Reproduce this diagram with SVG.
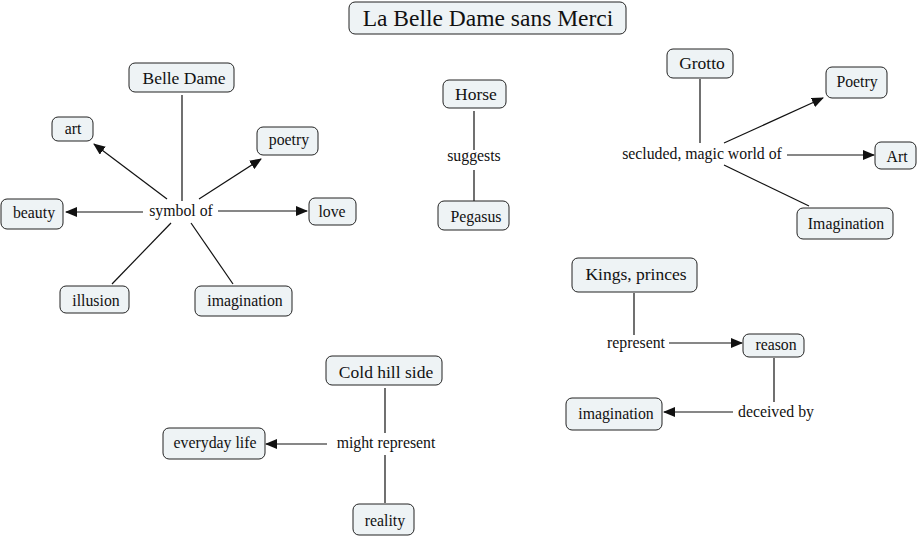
<svg xmlns="http://www.w3.org/2000/svg" width="919" height="538" viewBox="0 0 919 538">
<style>
.n rect{fill:#eef3f5;stroke:#222;stroke-width:1}
text{font-family:"Liberation Serif","Times New Roman",serif;fill:#111;text-anchor:middle}
.big{font-size:17.5px}
.sm{font-size:15.8px}
.lbl{font-size:15.8px}
.c line{stroke:#111;stroke-width:1.2;fill:none}
</style>
<defs>
<marker id="a" markerWidth="12" markerHeight="10" refX="11" refY="5" orient="auto" markerUnits="userSpaceOnUse">
<path d="M0,0 L12,5 L0,10 Z" fill="#111"/>
</marker>
</defs>
<rect width="919" height="538" fill="#fff"/>
<g class="c" id="connectors">
<line x1="182" y1="95" x2="182" y2="201"/>
<line x1="167" y1="199" x2="94" y2="144" marker-end="url(#a)"/>
<line x1="199" y1="199" x2="261" y2="159" marker-end="url(#a)"/>
<line x1="143" y1="212" x2="66" y2="212" marker-end="url(#a)"/>
<line x1="218" y1="211" x2="307" y2="211" marker-end="url(#a)"/>
<line x1="171" y1="223" x2="112" y2="284"/>
<line x1="191" y1="223" x2="233" y2="284"/>
<line x1="474" y1="111" x2="474" y2="150"/>
<line x1="474" y1="170" x2="474" y2="201"/>
<line x1="700" y1="79" x2="700" y2="143"/>
<line x1="724" y1="143" x2="823" y2="98" marker-end="url(#a)"/>
<line x1="787" y1="155" x2="874" y2="155" marker-end="url(#a)"/>
<line x1="724" y1="165" x2="809" y2="206"/>
<line x1="634" y1="293" x2="634" y2="335"/>
<line x1="669" y1="343" x2="742" y2="343" marker-end="url(#a)"/>
<line x1="774" y1="358" x2="774" y2="402"/>
<line x1="733" y1="412" x2="664" y2="412" marker-end="url(#a)"/>
<line x1="385" y1="388" x2="385" y2="433"/>
<line x1="327" y1="444" x2="266" y2="444" marker-end="url(#a)"/>
<line x1="385" y1="455" x2="385" y2="503"/>
</g>
<g class="lbl">
<text class="lbl" x="181" y="216">symbol of</text>
<text class="lbl" x="474" y="161">suggests</text>
<text class="lbl" x="702" y="159">secluded, magic world of</text>
<text class="lbl" x="636" y="348">represent</text>
<text class="lbl" x="776" y="417">deceived by</text>
<text class="lbl" x="386" y="448">might represent</text>
</g>
<g class="n" id="title"><rect x="349" y="2" width="277" height="32" rx="6"/><text x="488" y="26" style="font-size:23.5px">La Belle Dame sans Merci</text></g>
<g class="n" id="belle"><rect x="129" y="63" width="105" height="29" rx="6"/><text class="big" x="184" y="84">Belle Dame</text></g>
<g class="n" id="art"><rect x="52" y="117" width="41" height="24" rx="6"/><text class="sm" x="73" y="134">art</text></g>
<g class="n" id="poetry"><rect x="257" y="127" width="61" height="28" rx="6"/><text class="sm" x="289" y="145">poetry</text></g>
<g class="n" id="beauty"><rect x="1" y="199" width="62" height="30" rx="6"/><text class="sm" x="34" y="218">beauty</text></g>
<g class="n" id="love"><rect x="309" y="198" width="47" height="27" rx="6"/><text class="sm" x="332" y="217">love</text></g>
<g class="n" id="illusion"><rect x="60" y="286" width="69" height="27" rx="6"/><text class="sm" x="96" y="306">illusion</text></g>
<g class="n" id="imag1"><rect x="195" y="286" width="97" height="30" rx="6"/><text class="sm" x="245" y="306">imagination</text></g>
<g class="n" id="horse"><rect x="443" y="80" width="63" height="28" rx="6"/><text class="big" x="476" y="100">Horse</text></g>
<g class="n" id="pegasus"><rect x="438" y="201" width="71" height="29" rx="6"/><text class="sm" x="476" y="222">Pegasus</text></g>
<g class="n" id="grotto"><rect x="667" y="49" width="66" height="29" rx="6"/><text class="big" x="702" y="69">Grotto</text></g>
<g class="n" id="poetry2"><rect x="826" y="67" width="61" height="31" rx="6"/><text class="sm" x="857" y="87">Poetry</text></g>
<g class="n" id="art2"><rect x="875" y="142" width="41" height="27" rx="6"/><text class="sm" x="897" y="162">Art</text></g>
<g class="n" id="imag2"><rect x="797" y="208" width="96" height="31" rx="6"/><text class="sm" x="846" y="229">Imagination</text></g>
<g class="n" id="kings"><rect x="572" y="258" width="125" height="34" rx="6"/><text class="big" x="636" y="280">Kings, princes</text></g>
<g class="n" id="reason"><rect x="743" y="334" width="61" height="23" rx="6"/><text class="sm" x="776" y="350">reason</text></g>
<g class="n" id="imag3"><rect x="566" y="398" width="96" height="32" rx="6"/><text class="sm" x="616" y="419">imagination</text></g>
<g class="n" id="cold"><rect x="326" y="356" width="116" height="29" rx="6"/><text class="big" x="386" y="378">Cold hill side</text></g>
<g class="n" id="everyday"><rect x="163" y="428" width="102" height="31" rx="6"/><text class="sm" x="215" y="448">everyday life</text></g>
<g class="n" id="reality"><rect x="353" y="504" width="61" height="31" rx="6"/><text class="sm" x="385" y="526">reality</text></g>
</svg>
